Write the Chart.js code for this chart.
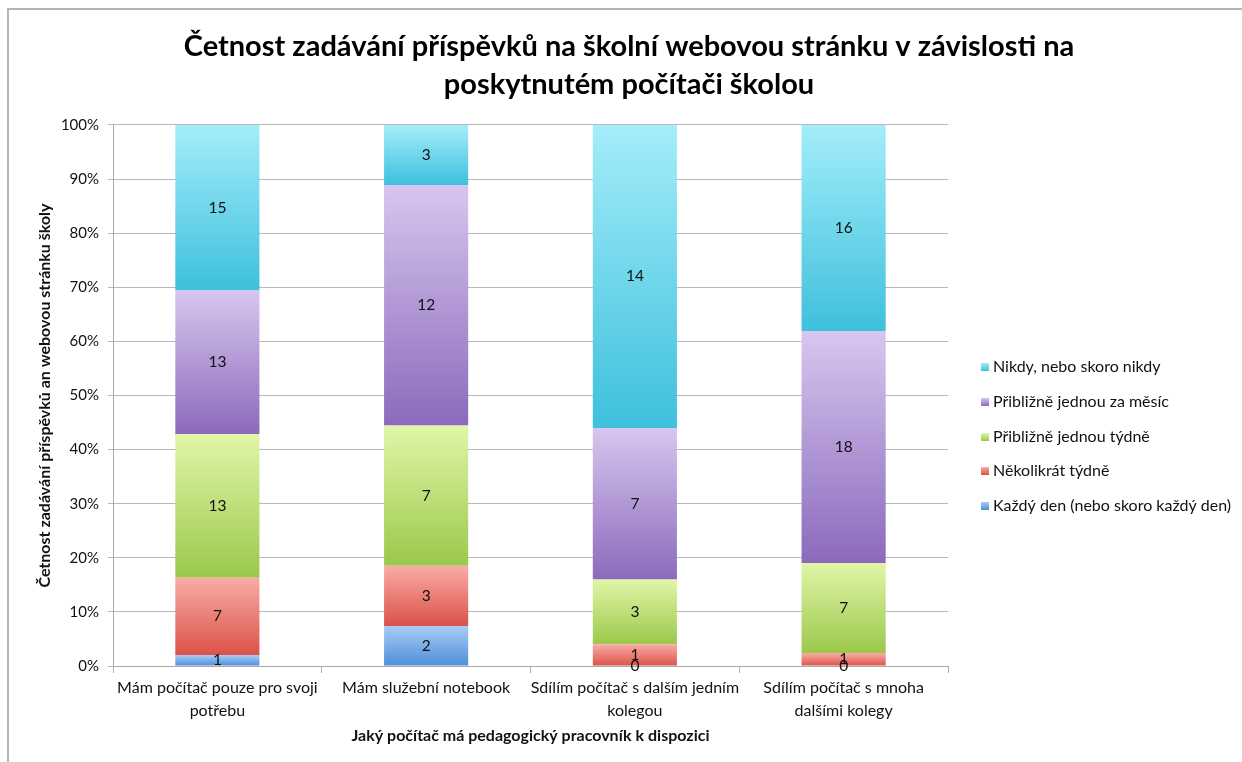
<!DOCTYPE html>
<html>
<head>
<meta charset="utf-8">
<script src="https://cdn.jsdelivr.net/npm/chart.js@4.4.1/dist/chart.umd.min.js"></script>
<style>
  html, body { margin: 0; padding: 0; background: #fff; }
  #wrap { width: 1242px; height: 762px; }
</style>
</head>
<body>
<div id="wrap"><canvas id="chart" width="1242" height="762"></canvas></div>
<script>
// Data
const categories = [
  ['Mám počítač pouze pro svoji', 'potřebu'],
  'Mám služební notebook',
  ['Sdílím počítač s dalším jedním', 'kolegou'],
  ['Sdílím počítač s mnoha', 'dalšími kolegy']
];
const seriesNames = [
  'Každý den (nebo skoro každý den)',
  'Několikrát týdně',
  'Přibližně jednou týdně',
  'Přibližně jednou za měsíc',
  'Nikdy, nebo skoro nikdy'
];
const kazdyDen   = [1, 2, 0, 0];
const nekolikrat = [7, 3, 1, 1];
const jednouTyd  = [13, 7, 3, 7];
const jednouMes  = [13, 12, 7, 18];
const nikdy      = [15, 3, 14, 16];
const yTickLabels = ['0%', '10%', '20%', '30%', '40%', '50%', '60%', '70%', '80%', '90%', '100%'];

const counts = [kazdyDen, nekolikrat, jednouTyd, jednouMes, nikdy];
const totals = categories.map((_, i) => counts.reduce((s, arr) => s + arr[i], 0));
const pct = counts.map(arr => arr.map((v, i) => v / totals[i] * 100));

// top / bottom colours of each gradient
const colTop    = ['#a9cdf6', '#f9aca7', '#e0f6a8', '#d8c6ef', '#a4edfa'];
const colBottom = ['#4e8ed8', '#db5247', '#9bc84b', '#8b6abc', '#3ec0dc'];

const font = 'Lato, "Open Sans", sans-serif';

function segFill(ctx) {
  const chart = ctx.chart;
  const d = ctx.datasetIndex, i = ctx.dataIndex;
  const y = chart.scales.y;
  if (!chart.chartArea || !y || i === undefined) return colBottom[d];
  let base = 0;
  for (let k = 0; k < d; k++) base += pct[k][i];
  const top = base + pct[d][i];
  const y0 = y.getPixelForValue(top), y1 = y.getPixelForValue(base);
  if (!isFinite(y0) || !isFinite(y1) || y0 === y1) return colBottom[d];
  const g = chart.ctx.createLinearGradient(0, y0, 0, y1);
  g.addColorStop(0, colTop[d]);
  g.addColorStop(1, colBottom[d]);
  return g;
}

// frame, value labels and legend
const extras = {
  id: 'extras',
  beforeDraw(chart) {
    const c = chart.ctx;
    c.save();
    c.strokeStyle = '#b4b4b4';
    c.lineWidth = 2;
    c.beginPath();
    c.moveTo(8, 762); c.lineTo(8, 9); c.lineTo(1242, 9);
    c.stroke();
    c.restore();
  },
  afterDatasetsDraw(chart) {
    const c = chart.ctx;
    c.save();
    c.font = '15.5px ' + font;
    c.fillStyle = '#111';
    c.textAlign = 'center';
    c.textBaseline = 'middle';
    chart.data.datasets.forEach((ds, d) => {
      chart.getDatasetMeta(d).data.forEach((bar, i) => {
        const cy = (bar.y + bar.base) / 2;
        c.fillText(String(counts[d][i]), bar.x, cy);
      });
    });
    // legend
    const ys = [367, 402, 437, 471, 506];
    c.font = '16px ' + font;
    c.textAlign = 'left';
    for (let k = 0; k < 5; k++) {
      const d = 4 - k;
      const y = ys[k];
      const g = c.createLinearGradient(0, y - 4, 0, y + 4);
      g.addColorStop(0, colTop[d]);
      g.addColorStop(1, colBottom[d]);
      c.fillStyle = g;
      c.fillRect(981, y - 4, 8, 8);
      c.fillStyle = '#111';
      c.fillText(seriesNames[d], 993, y);
    }
    c.restore();
  }
};

new Chart(document.getElementById('chart'), {
  type: 'bar',
  data: {
    labels: categories,
    datasets: seriesNames.map((name, d) => ({
      label: name,
      data: pct[d],
      backgroundColor: segFill,
      borderWidth: 0,
      categoryPercentage: 1,
      barPercentage: 0.403
    }))
  },
  options: {
    responsive: false,
    animation: false,
    layout: { padding: { left: 16, right: 0, top: 0, bottom: 17 } },
    scales: {
      x: {
        stacked: true,
        grid: { offset: true, drawOnChartArea: false, drawTicks: true, tickLength: 7, color: '#b0b0b0' },
        border: { color: '#a8a8a8' },
        ticks: { color: '#111', font: { family: font, size: 16, lineHeight: 1.4 }, padding: 4, maxRotation: 0, autoSkip: false },
        title: { display: true, text: 'Jaký počítač má pedagogický pracovník k dispozici', color: '#111', font: { family: font, size: 16, weight: 'bold' }, padding: { top: 0, bottom: 0 } }
      },
      y: {
        stacked: true,
        min: 0, max: 100,
        afterFit: s => { s.width = 97; },
        grid: { color: '#b8b8b8', tickLength: 5 },
        border: { color: '#a8a8a8' },
        ticks: { stepSize: 10, color: '#111', font: { family: font, size: 15 }, padding: 9, callback: (v, idx) => yTickLabels[idx] },
        title: { display: true, text: 'Četnost zadávání příspěvků an webovou stránku školy', color: '#111', font: { family: font, size: 16, weight: 'bold' }, padding: { top: 19, bottom: 0 } }
      },
      // empty right-hand box that keeps room for the legend
      side: {
        position: 'right',
        display: true,
        min: 0, max: 1,
        afterFit: s => { s.width = 294; },
        grid: { display: false },
        border: { display: false },
        ticks: { display: false }
      }
    },
    plugins: {
      legend: { display: false },
      tooltip: { enabled: false },
      title: {
        display: true,
        text: ['Četnost zadávání příspěvků na školní webovou stránku v závislosti na', 'poskytnutém počítači školou'],
        color: '#000',
        font: { family: font, size: 29, weight: 'bold', lineHeight: 1.31 },
        padding: { top: 28, bottom: 21 }
      }
    }
  },
  plugins: [extras]
});
</script>
</body>
</html>
